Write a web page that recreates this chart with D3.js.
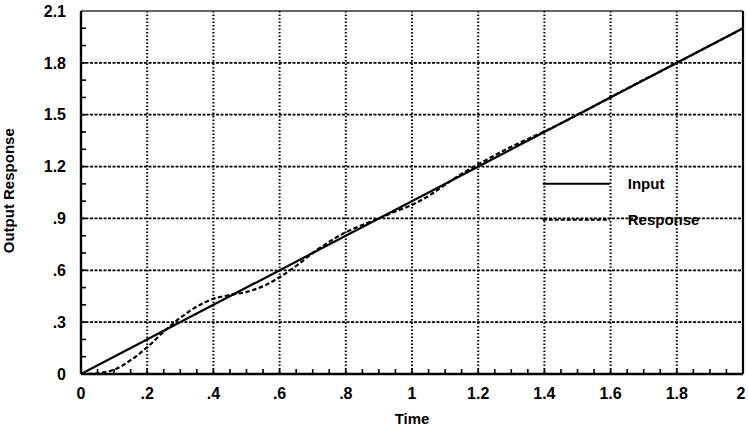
<!DOCTYPE html>
<html>
<head>
<meta charset="utf-8">
<script src="https://cdn.jsdelivr.net/npm/d3@7"></script>
<style>
  body { margin: 0; background: #fff; }
  text { font-family: "Liberation Sans", Arial, sans-serif; font-weight: bold; fill: #000; }
</style>
</head>
<body>
<div id="chart"></div>
<script>
const width = 748;
const height = 428;
const margin = { top: 11, right: 5, bottom: 54, left: 81 };

// Data
const inputTimes = [0, 2];
const inputValues = [0, 2];

const responseTimes = [0, 0.05, 0.1, 0.15, 0.2, 0.25, 0.3, 0.35, 0.4, 0.45, 0.5, 0.55, 0.6,
  0.65, 0.7, 0.75, 0.8, 0.85, 0.9, 0.95, 1.0, 1.05, 1.1, 1.15, 1.2, 1.25, 1.3, 1.35, 1.4,
  1.45, 1.5, 1.55, 1.6, 1.65, 1.7, 1.75, 1.8, 1.85, 1.9, 1.95, 2.0];
const responseValues = [0, 0.004, 0.025, 0.08, 0.155, 0.245, 0.325, 0.39, 0.435, 0.457, 0.475,
  0.508, 0.56, 0.625, 0.7, 0.765, 0.82, 0.862, 0.9, 0.94, 0.978, 1.03, 1.095, 1.158, 1.213,
  1.265, 1.315, 1.36, 1.404, 1.45, 1.5, 1.55, 1.602, 1.652, 1.702, 1.75, 1.8, 1.85, 1.9, 1.95, 2.0];

const xTicks = [0, 0.2, 0.4, 0.6, 0.8, 1, 1.2, 1.4, 1.6, 1.8, 2];
const xTickLabels = ['0', '.2', '.4', '.6', '.8', '1', '1.2', '1.4', '1.6', '1.8', '2'];
const yTicks = [0, 0.3, 0.6, 0.9, 1.2, 1.5, 1.8, 2.1];
const yTickLabels = ['0', '.3', '.6', '.9', '1.2', '1.5', '1.8', '2.1'];

const legendNames = ['Input', 'Response'];

const innerW = width - margin.left - margin.right;
const innerH = height - margin.top - margin.bottom;

const svg = d3.select('#chart')
  .append('svg')
  .attr('width', width)
  .attr('height', height)
  .append('g')
  .attr('transform', `translate(${margin.left}, ${margin.top})`);

const x = d3.scaleLinear().domain([0, 2]).range([0, innerW]);
const y = d3.scaleLinear().domain([0, 2.1]).range([innerH, 0]);

// Grid lines
svg.append('g')
  .selectAll('line')
  .data(xTicks.slice(1, -1))
  .join('line')
  .attr('x1', d => x(d)).attr('x2', d => x(d))
  .attr('y1', 0).attr('y2', innerH)
  .attr('stroke', '#000')
  .attr('stroke-width', 2)
  .attr('stroke-dasharray', '1.6,1.9');

svg.append('g')
  .selectAll('line')
  .data(yTicks.slice(1, -1))
  .join('line')
  .attr('x1', 0).attr('x2', innerW)
  .attr('y1', d => y(d)).attr('y2', d => y(d))
  .attr('stroke', '#000')
  .attr('stroke-width', 1.7)
  .attr('stroke-dasharray', '3,1.5');

// Minor ticks pointing inward
const xMinor = d3.range(1, 40).map(i => i * 0.05);
svg.append('g')
  .selectAll('line')
  .data(xMinor)
  .join('line')
  .attr('x1', d => x(d)).attr('x2', d => x(d))
  .attr('y1', innerH).attr('y2', innerH - 5)
  .attr('stroke', '#000')
  .attr('stroke-width', 1.6);

const yMinor = d3.range(1, 21).map(i => i * 0.1);
svg.append('g')
  .selectAll('line')
  .data(yMinor)
  .join('line')
  .attr('x1', 0).attr('x2', 5)
  .attr('y1', d => y(d)).attr('y2', d => y(d))
  .attr('stroke', '#000')
  .attr('stroke-width', 1.6);

// Frame
svg.append('line')
  .attr('x1', 0).attr('x2', innerW).attr('y1', 0).attr('y2', 0)
  .attr('stroke', '#333').attr('stroke-width', 1.3);
svg.append('line')
  .attr('x1', innerW).attr('x2', innerW).attr('y1', 0).attr('y2', innerH)
  .attr('stroke', '#000').attr('stroke-width', 2.2);
svg.append('line')
  .attr('x1', 0).attr('x2', 0).attr('y1', 0).attr('y2', innerH)
  .attr('stroke', '#000').attr('stroke-width', 2.4);
svg.append('line')
  .attr('x1', 0).attr('x2', innerW).attr('y1', innerH).attr('y2', innerH)
  .attr('stroke', '#000').attr('stroke-width', 2.4);

// Tick labels
svg.append('g')
  .selectAll('text')
  .data(xTicks)
  .join('text')
  .attr('x', (d, i) => x(d) + (i === 10 ? -2 : 0))
  .attr('y', innerH + 25)
  .attr('text-anchor', 'middle')
  .style('font-size', '16px')
  .text((d, i) => xTickLabels[i]);

svg.append('g')
  .selectAll('text')
  .data(yTicks)
  .join('text')
  .attr('x', -15)
  .attr('y', d => y(d))
  .attr('dy', '0.36em')
  .attr('text-anchor', 'end')
  .style('font-size', '16px')
  .text((d, i) => yTickLabels[i]);

// Axis titles
svg.append('text')
  .attr('x', x(1))
  .attr('y', innerH + 50)
  .attr('text-anchor', 'middle')
  .style('font-size', '15px')
  .text('Time');

svg.append('text')
  .attr('transform', `translate(${-margin.left + 14}, ${y(1.06)}) rotate(-90)`)
  .attr('text-anchor', 'middle')
  .style('font-size', '15px')
  .text('Output Response');

// Lines
const inputData = inputTimes.map((t, i) => ({ t, v: inputValues[i] }));
const responseData = responseTimes.map((t, i) => ({ t, v: responseValues[i] }));

const line = d3.line()
  .x(d => x(d.t))
  .y(d => y(d.v))
  .curve(d3.curveCatmullRom);

svg.append('path')
  .datum(inputData)
  .attr('fill', 'none')
  .attr('stroke', '#000')
  .attr('stroke-width', 2.2)
  .attr('d', line);

svg.append('path')
  .datum(responseData)
  .attr('fill', 'none')
  .attr('stroke', '#000')
  .attr('stroke-width', 2.2)
  .attr('stroke-dasharray', '4.5,2.5')
  .attr('d', line);

// Legend
const legend = svg.append('g')
  .attr('transform', `translate(${x(1.395)}, ${y(1.1)})`);

legend.selectAll('line')
  .data(legendNames)
  .join('line')
  .attr('x1', 0).attr('x2', 67)
  .attr('y1', (d, i) => i * 36).attr('y2', (d, i) => i * 36)
  .attr('stroke', '#000')
  .attr('stroke-width', 2)
  .attr('stroke-dasharray', (d, i) => i === 1 ? '4,2' : null);

legend.selectAll('text')
  .data(legendNames)
  .join('text')
  .attr('x', 85)
  .attr('y', (d, i) => i * 36)
  .attr('dy', '0.36em')
  .style('font-size', '15px')
  .text(d => d);
</script>
</body>
</html>
